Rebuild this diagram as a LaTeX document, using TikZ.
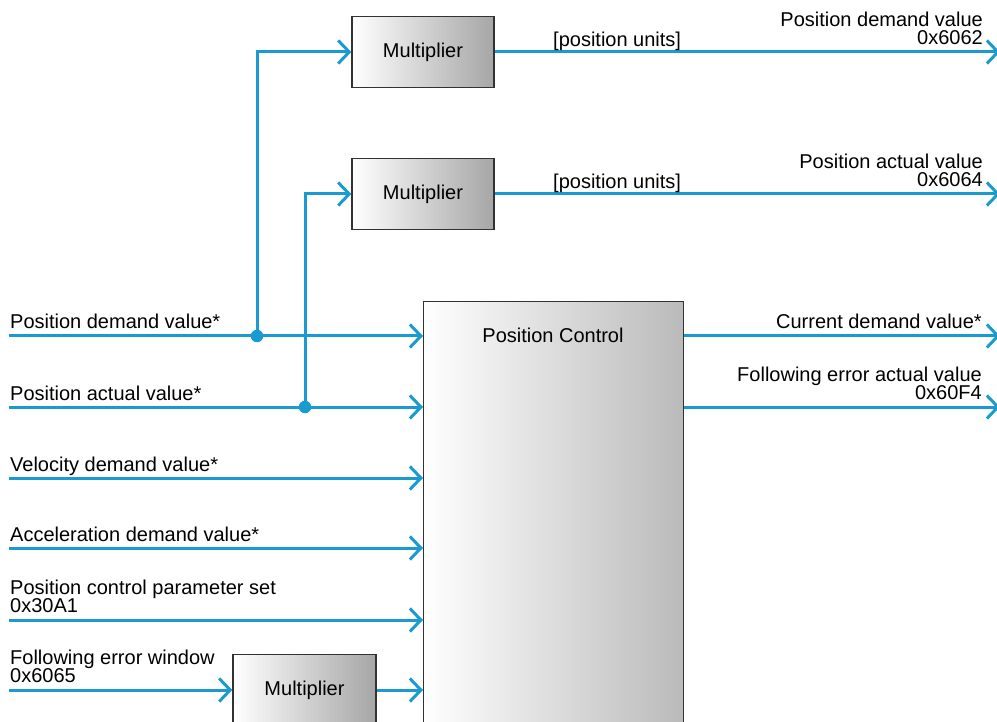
\documentclass[tikz,border=0pt]{standalone}
\usepackage{fontspec}
\setmainfont{Liberation Sans}
\usetikzlibrary{arrows.meta,calc}
\definecolor{sig}{RGB}{25,155,210}
\definecolor{frame}{RGB}{50,50,50}
\newcommand\lblfont{\fontsize{20pt}{18.5pt}\selectfont\lineskiplimit -20pt\relax}
\begin{document}
\begin{tikzpicture}[x=1pt,y=-1pt,
  sigline/.style={draw=sig, line width=3pt, -{Straight Barb[length=11pt,width=23pt]}},
  block/.style={draw=frame, line width=1.4pt, left color=white, right color=black!35,
    minimum width=142pt, minimum height=71pt, inner sep=0pt,
    font=\lblfont},
  lbl/.style={inner sep=0pt, font=\lblfont},
  dot/.style={circle, fill=sig, minimum size=12.5pt, inner sep=0pt}]
\useasboundingbox (0,0) rectangle (997,722);

% blocks
\node[block] (m1) at (423,52) {Multiplier};
\node[block] (m2) at (423,194) {Multiplier};
\node[block, minimum width=143pt] (m3) at (304.5,690) {Multiplier};
\node[block, right color=black!27, minimum width=260pt, minimum height=480pt, anchor=north west] (pc) at (423,301) {};
\node[lbl] (pct) at (553,335) {Position Control};

% inputs
\coordinate (i1) at (9,336);
\coordinate (i2) at (9,407);
\coordinate (i3) at (9,478);
\coordinate (i4) at (9,548);
\coordinate (i5) at (9,620);
\coordinate (i6) at (9,690);
\draw[sigline] (i1) -- (i1 -| pc.west);
\draw[sigline] (i2) -- (i2 -| pc.west);
\draw[sigline] (i3) -- (i3 -| pc.west);
\draw[sigline] (i4) -- (i4 -| pc.west);
\draw[sigline] (i5) -- (i5 -| pc.west);
\draw[sigline] (i6) -- (m3.west);
\draw[sigline] (m3.east) -- (m3.east -| pc.west);

% branches
\node[dot] (j1) at (257,336) {};
\node[dot] (j2) at (305,407) {};
\coordinate (c1) at (257,52);
\coordinate (c2) at (305,194);
\draw[sigline] (j1.center) -- (c1) -- (m1.west);
\draw[sigline] (j2.center) -- (c2) -- (m2.west);

% outputs
\coordinate (o1) at (1000,52);
\coordinate (o2) at (1000,194);
\coordinate (o3) at (1000,336);
\coordinate (o4) at (1000,407);
\draw[sigline] (m1.east) -- (o1);
\draw[sigline] (m2.east) -- (o2);
\draw[sigline] (o3 -| pc.east) -- (o3);
\draw[sigline] (o4 -| pc.east) -- (o4);

% labels
\node[lbl, anchor=base west] (u1) at (553,47) {[position units]};
\node[lbl, anchor=base west] (u2) at (553,189) {[position units]};
\node[lbl, anchor=south east, align=right] (r1) at (983,45) {Position demand value\\0x6062};
\node[lbl, anchor=south east, align=right] (r2) at (983,187) {Position actual value\\0x6064};
\node[lbl, anchor=base east] (r3) at (982,329) {Current demand value*};
\node[lbl, anchor=south east, align=right] (r4) at (982,400) {Following error actual value\\0x60F4};

\node[lbl, anchor=base west] (l1) at (10,329) {Position demand value*};
\node[lbl, anchor=base west] (l2) at (10,400) {Position actual value*};
\node[lbl, anchor=base west] (l3) at (10,471) {Velocity demand value*};
\node[lbl, anchor=base west] (l4) at (10,541) {Acceleration demand value*};
\node[lbl, anchor=south west, align=left] (l5) at (10,613) {Position control parameter set\\0x30A1};
\node[lbl, anchor=south west, align=left] (l6) at (10,683) {Following error window\\0x6065};
\end{tikzpicture}
\end{document}
